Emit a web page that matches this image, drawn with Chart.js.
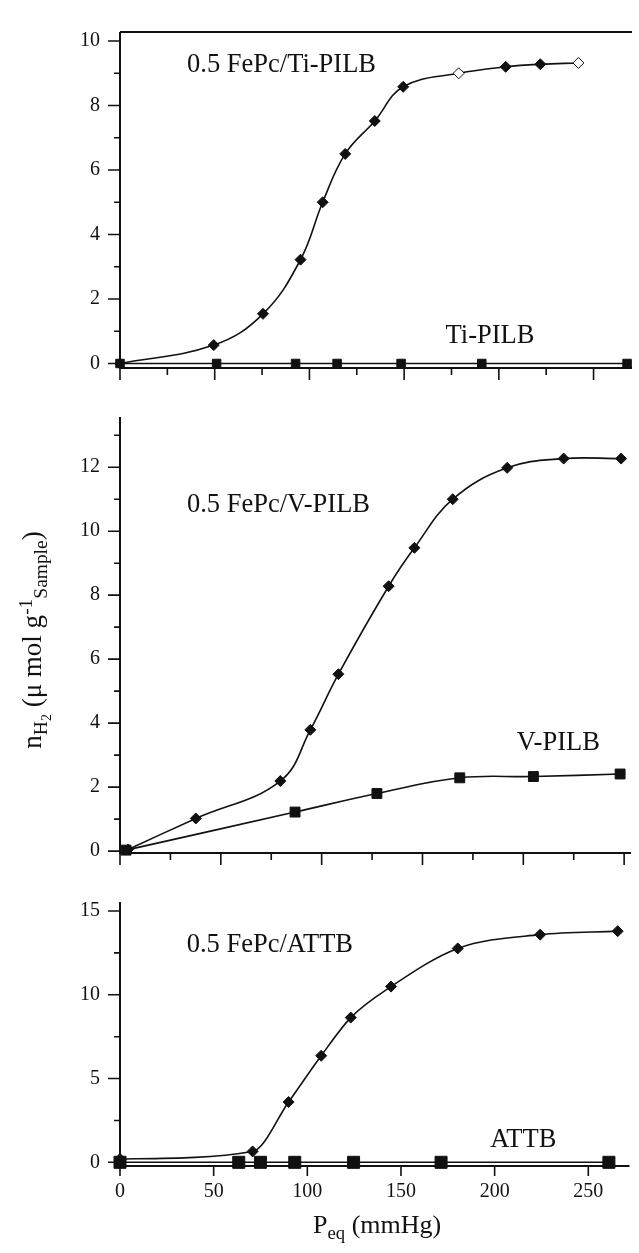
<!DOCTYPE html>
<html>
<head>
<meta charset="utf-8">
<script src="https://cdn.jsdelivr.net/npm/chart.js@4.4.1/dist/chart.umd.min.js"></script>
<style>
  html, body { margin: 0; padding: 0; background: #fff; }
  #wrap { position: relative; width: 639px; height: 1253px; overflow: hidden;
          font-family: "Liberation Serif", "Times New Roman", serif; color: #111; }
  #wrap canvas { position: absolute; left: 0; }
  .ytitle { position: absolute; left: -143px; top: 622px; width: 350px; height: 36px;
            line-height: 36px; text-align: center; font-size: 27px; white-space: nowrap;
            transform: rotate(-90deg); }
  .xtitle { position: absolute; left: 313px; top: 1210px; font-size: 26px; line-height: 30px;
            white-space: nowrap; }
  .lo { font-size: 0.72em; position: relative; top: 0.32em; }
  .lo2 { font-size: 0.72em; position: relative; top: 0.25em; }
  .hi { font-size: 0.72em; position: relative; top: -0.45em; }
</style>
</head>
<body>
<div id="wrap">
  <canvas id="cTi" width="639" height="400" style="top:0;width:639px;height:400px"></canvas>
  <canvas id="cV" width="639" height="500" style="top:385px;width:639px;height:500px"></canvas>
  <canvas id="cAT" width="639" height="383" style="top:870px;width:639px;height:383px"></canvas>
  <div class="ytitle">n<span class="lo">H<span class="lo2">2</span></span> (μ mol g<span class="hi">-1</span><span class="lo">Sample</span>)</div>
  <div class="xtitle">P<span class="lo">eq</span> (mmHg)</div>
</div>
<script>
// Ti-PILB panel (P_eq in mmHg, n_H2 in umol/g)
var tiFePcX = [0, 49.5, 75.5, 95.3, 107, 118.9, 134.5, 149.5, 178.8, 203.6, 221.9, 242];
var tiFePcY = [0, 0.57, 1.54, 3.22, 5.0, 6.5, 7.52, 8.58, 9.0, 9.2, 9.28, 9.32];
var tiX = [0, 51, 92.7, 114.6, 148.4, 191, 267.7];
var tiY = [0, 0, 0, 0, 0, 0, 0];

// V-PILB panel
var vFePcX = [4, 37.6, 79.5, 94.4, 108.3, 133.2, 146, 165, 192, 220, 248.5];
var vFePcY = [0.05, 1.02, 2.19, 3.79, 5.53, 8.28, 9.48, 11.0, 11.98, 12.27, 12.27];
var vX = [3, 86.8, 127.4, 168.5, 205, 248];
var vY = [0.03, 1.22, 1.8, 2.29, 2.33, 2.41];

// ATTB panel
var atFePcX = [0, 70.8, 90, 107.4, 123.2, 144.7, 180.3, 224.3, 265.7];
var atFePcY = [0.2, 0.65, 3.6, 6.36, 8.64, 10.49, 12.77, 13.59, 13.8];
var atX = [0, 63.4, 75, 93.3, 124.7, 171.4, 261];
var atY = [0, 0, 0, 0, 0, 0, 0];

// tick values
var xMajor = [0, 50, 100, 150, 200, 250];
var xMinor = [25, 75, 125, 175, 225];
var yMajorTi = [0, 2, 4, 6, 8, 10];
var yMinorTi = [1, 3, 5, 7, 9];
var yMajorV = [0, 2, 4, 6, 8, 10, 12];
var yMinorV = [1, 3, 5, 7, 9, 11, 13];
var yMajorAT = [0, 5, 10, 15];
var yMinorAT = [2.5, 7.5, 12.5];

var INK = '#111';
var SERIF = '"Liberation Serif", "Times New Roman", serif';

function pts(xs, ys) {
  return xs.map(function (x, i) { return {x: x, y: ys[i]}; });
}

// axes, tick marks and panel labels
var framePlugin = {
  id: 'frame',
  beforeDatasetsDraw: function (chart, args, o) {
    var ctx = chart.ctx, a = chart.chartArea, x = chart.scales.x, y = chart.scales.y;
    ctx.save();
    ctx.strokeStyle = INK;
    ctx.lineWidth = 2;
    ctx.beginPath();
    ctx.moveTo(a.left, a.top);
    ctx.lineTo(a.left, a.bottom);
    ctx.lineTo(a.right, a.bottom);
    if (o.topLine) {
      ctx.moveTo(a.left, a.top);
      ctx.lineTo(a.right, a.top);
    }
    ctx.stroke();

    ctx.lineWidth = 1.6;
    ctx.beginPath();
    o.yMajor.forEach(function (v) {
      var p = y.getPixelForValue(v);
      ctx.moveTo(a.left - 12, p); ctx.lineTo(a.left, p);
    });
    o.yMinor.forEach(function (v) {
      var p = y.getPixelForValue(v);
      ctx.moveTo(a.left - 6, p); ctx.lineTo(a.left, p);
    });
    o.xMajor.forEach(function (v) {
      var p = x.getPixelForValue(v);
      ctx.moveTo(p, a.bottom); ctx.lineTo(p, a.bottom + o.xMajorLen);
    });
    o.xMinor.forEach(function (v) {
      var p = x.getPixelForValue(v);
      ctx.moveTo(p, a.bottom); ctx.lineTo(p, a.bottom + 7);
    });
    ctx.stroke();

    ctx.fillStyle = INK;
    ctx.font = '26.5px ' + SERIF;
    ctx.textAlign = 'left';
    ctx.textBaseline = 'alphabetic';
    o.notes.forEach(function (n) {
      ctx.fillText(n.text, x.getPixelForValue(n.x), y.getPixelForValue(n.y));
    });
    ctx.restore();
  }
};

function lineSet(data, style, radius, mono, hollow) {
  return {
    data: data,
    borderColor: INK,
    borderWidth: 1.6,
    pointStyle: style,
    pointRadius: radius,
    pointBorderWidth: 1,
    pointBorderColor: INK,
    pointBackgroundColor: function (c) {
      return hollow && hollow.indexOf(c.dataIndex) >= 0 ? '#fff' : INK;
    },
    cubicInterpolationMode: mono ? 'monotone' : 'default',
    tension: 0.4,
    clip: false
  };
}

function panel(id, cfg) {
  return new Chart(document.getElementById(id), {
    type: 'line',
    data: {datasets: cfg.datasets},
    options: {
      responsive: false,
      animation: false,
      devicePixelRatio: 1,
      layout: {padding: {top: cfg.padTop, left: 0, right: 0, bottom: 0}},
      plugins: {
        legend: {display: false},
        tooltip: {enabled: false},
        frame: cfg.frame
      },
      scales: {
        x: {
          type: 'linear',
          min: 0,
          max: cfg.xMax,
          grid: {display: false, drawTicks: false},
          border: {display: false},
          afterBuildTicks: function (s) { s.ticks = xMajor.map(function (v) { return {value: v}; }); },
          afterFit: function (s) { s.height = cfg.xHeight; },
          ticks: {
            display: cfg.xLabels,
            padding: 14,
            color: INK,
            font: {family: SERIF, size: 20},
            maxRotation: 0,
            callback: function (v) { return String(v); }
          }
        },
        y: {
          type: 'linear',
          min: cfg.yMin,
          max: cfg.yMax,
          grid: {display: false, drawTicks: false},
          border: {display: false},
          afterBuildTicks: function (s) { s.ticks = cfg.frame.yMajor.map(function (v) { return {value: v}; }); },
          afterFit: function (s) { s.width = 120; },
          ticks: {
            padding: 20,
            color: INK,
            font: {family: SERIF, size: 20},
            callback: function (v) { return String(v); }
          }
        }
      }
    },
    plugins: [framePlugin]
  });
}

panel('cTi', {
  padTop: 14, xHeight: 20, xMax: 270.3, yMin: -0.14, yMax: 10.28, xLabels: false,
  datasets: [
    lineSet(pts(tiFePcX, tiFePcY), 'rectRot', 5.5, false, [8, 11]),
    lineSet(pts(tiX, tiY), 'rect', 6, false)
  ],
  frame: {
    topLine: true, yMajor: yMajorTi, yMinor: yMinorTi, xMajor: xMajor, xMinor: xMinor, xMajorLen: 12,
    notes: [{text: '0.5 FePc/Ti-PILB', x: 35.4, y: 9.03}, {text: 'Ti-PILB', x: 171.9, y: 0.63}]
  }
});

panel('cV', {
  padTop: 5, xHeight: 26, xMax: 253.4, yMin: -0.06, yMax: 13.57, xLabels: false,
  datasets: [
    lineSet(pts(vFePcX, vFePcY), 'rectRot', 5.5, false),
    lineSet(pts(vX, vY), 'rect', 7, false)
  ],
  frame: {
    topLine: false, yMajor: yMajorV, yMinor: yMinorV, xMajor: xMajor, xMinor: xMinor, xMajorLen: 12,
    notes: [{text: '0.5 FePc/V-PILB', x: 33.2, y: 10.6}, {text: 'V-PILB', x: 196.8, y: 3.17}]
  }
});

panel('cAT', {
  padTop: 6, xHeight: 87, xMax: 272, yMin: -0.22, yMax: 15.54, xLabels: true,
  datasets: [
    lineSet(pts(atFePcX, atFePcY), 'rectRot', 5.5, true),
    lineSet(pts(atX, atY), 'rect', 8.5, false)
  ],
  frame: {
    topLine: false, yMajor: yMajorAT, yMinor: yMinorAT, xMajor: xMajor, xMinor: [], xMajorLen: 10,
    notes: [{text: '0.5 FePc/ATTB', x: 35.6, y: 12.55}, {text: 'ATTB', x: 197.6, y: 0.92}]
  }
});
</script>
</body>
</html>
